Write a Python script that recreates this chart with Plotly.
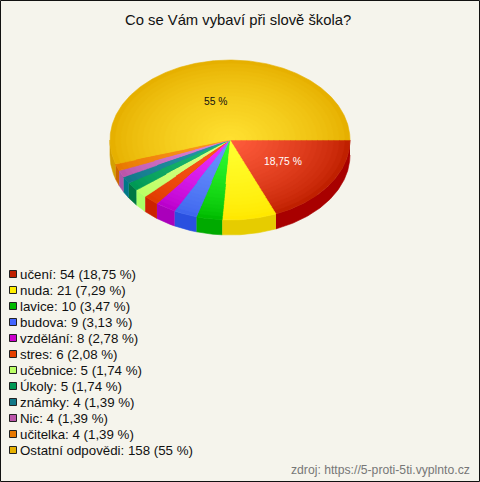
import math
import plotly.graph_objects as go

title = "Co se Vám vybaví při slově škola?"
source = "zdroj: https://5-proti-5ti.vyplnto.cz"
categories = ["učení", "nuda", "lavice", "budova", "vzdělání", "stres", "učebnice", "Úkoly", "známky", "Nic", "učitelka", "Ostatní odpovědi"]
values = [54, 21, 10, 9, 8, 6, 5, 5, 4, 4, 4, 158]
percents = ["18,75", "7,29", "3,47", "3,13", "2,78", "2,08", "1,74", "1,74", "1,39", "1,39", "1,39", "55"]
edge_colors = ["#c02000", "#ffe800", "#00bb00", "#3f66ee", "#bb00cc", "#e03c00", "#bbff66", "#009955", "#117788", "#bb55aa", "#e87800", "#e6b000"]
center_colors = ["#ff5c3c", "#ffff30", "#33ff33", "#6c96ff", "#ee33ff", "#ff5c1c", "#ddff88", "#22bb77", "#2a98ac", "#dd88dd", "#ff9922", "#ffe030"]
side_colors = ["#a80000", "#e6cc00", "#00aa00", "#2a50e0", "#aa00bb", "#cc2200", "#aaff66", "#007744", "#007788", "#aa55aa", "#cc6600", "#d4a000"]
legend_colors = ["#c02000", "#ffee00", "#00bb00", "#4466ff", "#cc00cc", "#e64000", "#bbff66", "#009955", "#117788", "#bb55aa", "#e87800", "#e6b000"]

CX, CY, RX, RY, DEPTH = 230, 140, 120, 80, 15
LAYERS = 22
BG = "#f5f4ec"
FONT = "Liberation Sans, Arial, sans-serif"


def rgb(h):
    return [int(h[i:i + 2], 16) for i in (1, 3, 5)]


def mix(a, b, t):
    a, b = rgb(a), rgb(b)
    return "rgb(%d,%d,%d)" % tuple(round(a[i] + (b[i] - a[i]) * t) for i in range(3))


def arc(a0, a1, scale=1.0, dy=0.0):
    n = max(2, int(abs(a1 - a0) * 90))
    xs, ys = [], []
    for i in range(n + 1):
        a = a0 + (a1 - a0) * i / n
        xs.append(CX + RX * scale * math.cos(a))
        ys.append(CY + dy + RY * scale * math.sin(a))
    return xs, ys


total = sum(values)
angles = [0.0]
for v in values:
    angles.append(angles[-1] + v / total * 2 * math.pi)

fig = go.Figure()


def poly(xs, ys, color):
    fig.add_trace(go.Scatter(x=xs, y=ys, mode="lines", fill="toself", fillcolor=color,
                             line=dict(width=0.6, color=color), hoverinfo="skip", showlegend=False))


# Side wall (only the front half of the ellipse is visible)
for i in range(len(values)):
    a0, a1 = angles[i], min(angles[i + 1], math.pi)
    if a0 >= math.pi:
        continue
    x1, y1 = arc(a0, a1)
    x2, y2 = arc(a1, a0, dy=DEPTH)
    poly(x1 + x2, y1 + y2, side_colors[i])

# Top surface with a stepped radial gradient
for layer in range(LAYERS):
    s = 1 - layer / LAYERS
    t = (layer / (LAYERS - 1)) ** 0.75
    for i in range(len(values)):
        xs, ys = arc(angles[i], angles[i + 1], scale=s)
        poly([CX] + xs + [CX], [CY] + ys + [CY], mix(edge_colors[i], center_colors[i], t))

# Legend swatches
legend_y = [274 + 16 * i for i in range(len(categories))]
fig.add_trace(go.Scatter(x=[13] * len(categories), y=legend_y, mode="markers",
                         marker=dict(symbol="square", size=7, color=legend_colors, line=dict(color="#222222", width=1)),
                         hoverinfo="skip", showlegend=False))

ann = []
for name, v, p, y in zip(categories, values, percents, legend_y):
    ann.append(dict(x=18, y=y, text=f"{name}: {v} ({p} %)", xanchor="left", yanchor="middle", showarrow=False,
                    font=dict(family=FONT, size=13.3, color="#111111")))

# Percentage labels on the two large slices
for i, color, dx, dy in [(0, "#ffffff", 0.5, -1), (11, "#111111", -5, 1)]:
    mid = (angles[i] + angles[i + 1]) / 2
    ann.append(dict(x=CX + RX * 0.53 * math.cos(mid) + dx, y=CY + RY * 0.5 * math.sin(mid) + dy,
                    text=f"{percents[i]} %", xanchor="center", yanchor="middle", showarrow=False,
                    font=dict(family=FONT, size=10.3, color=color)))

ann.append(dict(x=238, y=20, text=title, xanchor="center", yanchor="middle", showarrow=False,
                font=dict(family=FONT, size=14.8, color="#111111")))
ann.append(dict(x=472, y=470, text=source, xanchor="right", yanchor="middle", showarrow=False,
                font=dict(family=FONT, size=12.2, color="#777777")))

fig.update_layout(
    width=480, height=482, margin=dict(l=0, r=0, t=0, b=0), autosize=False,
    paper_bgcolor=BG, plot_bgcolor=BG, showlegend=False, annotations=ann,
    xaxis=dict(range=[0, 480], visible=False, fixedrange=True),
    yaxis=dict(range=[482, 0], visible=False, fixedrange=True),
    shapes=[dict(type="rect", xref="x", yref="y", x0=0.5, y0=0.5, x1=479.5, y1=481.5,
                 line=dict(color="#111111", width=1), fillcolor="rgba(0,0,0,0)")],
)
fig.write_html("out.html", config=dict(displayModeBar=False),
               post_script="document.documentElement.style.overflow='hidden';document.body.style.margin='0';")
